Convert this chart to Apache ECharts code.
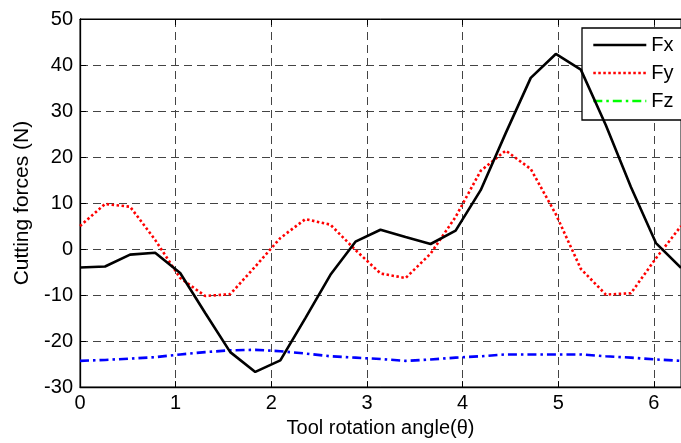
<!DOCTYPE html>
<html>
<head>
<meta charset="utf-8">
<script src="https://cdn.jsdelivr.net/npm/echarts@6/dist/echarts.min.js"></script>
<style>html,body{margin:0;padding:0;background:#fff;}#chart{width:681px;height:443px;}</style>
</head>
<body>
<div id="chart"></div>
<script>
// Tool rotation angle (rad), steps of pi/12
var angles = [0, 0.2618, 0.5236, 0.7854, 1.0472, 1.309, 1.5708, 1.8326, 2.0944, 2.3562, 2.618, 2.8798, 3.1416, 3.4034, 3.6652, 3.927, 4.1888, 4.4506, 4.7124, 4.9742, 5.236, 5.4978, 5.7596, 6.0214, 6.2832];
var fx = [-4.0, -3.8, -1.2, -0.8, -5.2, -13.9, -22.4, -26.7, -24.2, -15.0, -5.6, 1.6, 4.2, 2.6, 1.1, 4.0, 12.8, 25.2, 37.2, 42.4, 39.0, 26.9, 13.5, 1.3, -4.1];
var fy = [5.0, 9.8, 9.2, 2.0, -6.3, -10.2, -9.8, -3.8, 2.4, 6.5, 5.3, -0.2, -5.3, -6.3, -1.0, 7.0, 17.0, 21.4, 17.4, 7.6, -4.3, -9.9, -9.6, -2.0, 5.0];
var fz = [-24.3, -24.1, -23.8, -23.5, -22.9, -22.4, -22.0, -21.9, -22.2, -22.7, -23.3, -23.6, -23.9, -24.3, -24.0, -23.6, -23.3, -22.9, -22.9, -22.9, -22.9, -23.3, -23.6, -24.0, -24.3];
var seriesNames = ['Fx', 'Fy', 'Fz'];
var xTitle = 'Tool rotation angle(\u03B8)';
var yTitle = 'Cutting forces (N)';

function pairs(xs, ys) { return xs.map(function (x, i) { return [x, ys[i]]; }); }

var FONT = '"Liberation Sans", Arial, sans-serif';
var chart = echarts.init(document.getElementById('chart'), null, { renderer: 'canvas' });
chart.setOption({
  animation: false,
  backgroundColor: '#fff',
  textStyle: { fontFamily: FONT },
  grid: { left: 80, top: 19, right: -9, bottom: 54, show: true, borderColor: '#000', borderWidth: 1, backgroundColor: 'transparent' },
  legend: {
    orient: 'vertical', left: 582, top: 28,
    backgroundColor: '#fff', borderColor: '#000', borderWidth: 1.3,
    padding: [7, 40, 9, 10], itemGap: 8, itemWidth: 53, itemHeight: 14,
    itemStyle: { opacity: 0 },
    lineStyle: { width: 2.6 },
    textStyle: { fontSize: 20, color: '#000', fontFamily: FONT },
    data: [
      { name: 'Fx' },
      { name: 'Fy' },
      { name: 'Fz', lineStyle: { color: '#00ff00', width: 2.6 } }
    ]
  },
  xAxis: [{
    type: 'value', min: 0, max: 6.2832, interval: 1,
    name: xTitle, nameLocation: 'middle', nameGap: 25,
    nameTextStyle: { fontSize: 20, color: '#000', fontFamily: FONT },
    axisLine: { onZero: false, lineStyle: { color: '#000', width: 1.3 } },
    axisTick: { inside: true, length: 6, lineStyle: { color: '#000' } },
    axisLabel: { fontSize: 20, color: '#000', margin: 6, showMaxLabel: false, fontFamily: FONT },
    splitLine: { show: true, lineStyle: { color: '#444', type: [8, 5], width: 1 } }
  }, {
    type: 'value', position: 'top', min: 0, max: 6.2832, interval: 1,
    axisLine: { show: true, onZero: false, lineStyle: { color: '#000' } },
    axisTick: { inside: true, length: 6, lineStyle: { color: '#000' } },
    axisLabel: { show: false }, splitLine: { show: false }
  }],
  yAxis: {
    type: 'value', min: -30, max: 50, interval: 10,
    name: yTitle, nameLocation: 'middle', nameGap: 47, nameRotate: 90,
    nameTextStyle: { fontSize: 21, color: '#000', fontFamily: FONT },
    axisLine: { show: true, onZero: false, lineStyle: { color: '#000', width: 1.3 } },
    axisTick: { show: true, inside: true, length: 6, lineStyle: { color: '#000' } },
    axisLabel: { fontSize: 20, color: '#000', margin: 7, fontFamily: FONT },
    splitLine: { show: true, lineStyle: { color: '#444', type: [8, 5], width: 1 } }
  },
  series: [
    { name: seriesNames[0], type: 'line', symbol: 'none', data: pairs(angles, fx),
      lineStyle: { color: '#000', width: 2.6 }, itemStyle: { color: '#000' }, z: 4 },
    { name: seriesNames[1], type: 'line', symbol: 'none', data: pairs(angles, fy),
      lineStyle: { color: '#ff0000', width: 2.6, type: [2.5, 2.5] }, itemStyle: { color: '#ff0000' }, z: 3 },
    { name: seriesNames[2], type: 'line', symbol: 'none', data: pairs(angles, fz),
      lineStyle: { color: '#0000ff', width: 2.6, type: [9, 4, 2.5, 4] }, itemStyle: { color: '#0000ff' }, z: 3 }
  ]
});
</script>
</body>
</html>
